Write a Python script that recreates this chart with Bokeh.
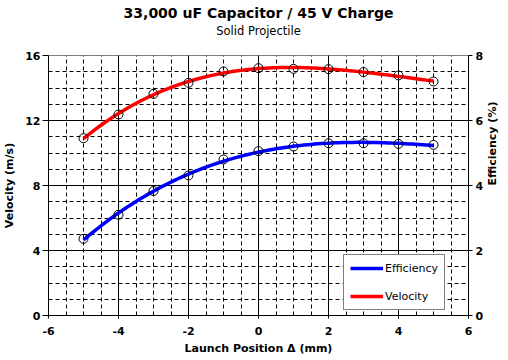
import math
import numpy as np
from bokeh.plotting import figure
from bokeh.models import (Range1d, LinearAxis, FixedTicker, Legend, LegendItem, Title)
from bokeh.embed import file_html
from bokeh.resources import INLINE

# ---- data ----
launch_pos = [-5, -4, -3, -2, -1, 0, 1, 2, 3, 4, 5]
velocity = [10.91, 12.37, 13.64, 14.32, 15.02, 15.22, 15.18, 15.16, 14.98, 14.77, 14.40]
efficiency = [2.36, 3.10, 3.83, 4.31, 4.80, 5.06, 5.20, 5.30, 5.30, 5.28, 5.25]

x_ticks = [-6, -4, -2, 0, 2, 4, 6]
vel_ticks = [0, 4, 8, 12, 16]
eff_ticks = [0, 2, 4, 6, 8]

TITLE = "33,000 uF Capacitor / 45 V Charge"
SUBTITLE = "Solid Projectile"
X_LABEL = "Launch Position \u0394 (mm)"
Y_LABEL = "Velocity (m/s)"
Y2_LABEL = "Efficiency (%)"

FONT = "DejaVu Sans"

# trend lines (polynomial fit of the measured points)
xs_fit = np.linspace(min(launch_pos), max(launch_pos), 101)
vel_fit = np.polyval(np.polyfit(launch_pos, velocity, 3), xs_fit)
eff_fit = np.polyval(np.polyfit(launch_pos, efficiency, 3), xs_fit)

p = figure(width=508, height=360, x_range=Range1d(-6, 6), y_range=Range1d(0, 16),
           output_backend="svg", toolbar_location=None, title=None,
           min_border_left=46, min_border_right=39, min_border_top=55, min_border_bottom=45,
           x_axis_label=X_LABEL, y_axis_label=Y_LABEL)
p.extra_y_ranges = {"eff": Range1d(0, 8)}
p.background_fill_color = "white"
p.border_fill_color = "white"
p.outline_line_color = "#808080"

# axes
xa = p.xaxis[0]
ya = p.yaxis[0]
xa.ticker = FixedTicker(ticks=x_ticks, minor_ticks=list(np.arange(-6, 6.01, 0.5)))
xa.major_label_overrides = {t: str(t) for t in x_ticks}
ya.ticker = FixedTicker(ticks=vel_ticks, minor_ticks=list(range(0, 17)))
ra = LinearAxis(y_range_name="eff", axis_label=Y2_LABEL, ticker=FixedTicker(ticks=eff_ticks))
p.add_layout(ra, "right")

for ax in (xa, ya, ra):
    ax.axis_line_color = "black"
    ax.major_tick_line_color = "black"
    ax.major_tick_in = 0
    ax.minor_tick_in = 0
    ax.minor_tick_out = 0
    ax.major_label_text_font = FONT
    ax.major_label_text_font_size = "11px"
    ax.major_label_text_font_style = "bold"
    ax.major_label_text_color = "black"
    ax.axis_label_text_font = FONT
    ax.axis_label_text_font_size = "11px"
    ax.axis_label_text_font_style = "bold"
    ax.axis_label_text_color = "black"

xa.major_tick_out = 3
xa.major_label_standoff = 8
xa.axis_label_standoff = 4
ya.major_tick_out = 6
ya.major_label_standoff = 2
ya.axis_label_standoff = 6
ra.major_tick_out = 4
ra.major_label_standoff = 3
ra.axis_label_standoff = 6
ra.axis_label_orientation = math.pi / 2

# subtitle carried by a bare axis above the frame (no line, no ticks)
sub_axis = LinearAxis(ticker=FixedTicker(ticks=[]), axis_label=SUBTITLE,
                      axis_line_color=None, major_tick_line_color=None,
                      minor_tick_line_color=None, major_tick_out=0, major_tick_in=0,
                      minor_tick_out=0, minor_tick_in=0, major_label_standoff=0,
                      axis_label_standoff=18, axis_label_text_font=FONT,
                      axis_label_text_font_size="11.5px", axis_label_text_font_style="normal",
                      axis_label_text_color="black")
p.add_layout(sub_axis, "above")
p.add_layout(Title(text=TITLE, align="center", vertical_align="bottom",
                   text_font=FONT, text_font_size="14px", text_font_style="bold",
                   text_color="black", standoff=0), "above")

# grids
for g in (p.xgrid[0], p.ygrid[0]):
    g.grid_line_color = "black"
    g.grid_line_width = 1
    g.minor_grid_line_color = "black"
    g.minor_grid_line_dash = "4 3"
    g.minor_grid_line_width = 1

# curves
eff_line = p.line(xs_fit, eff_fit, y_range_name="eff", line_color="#0000ff", line_width=3.5)
vel_line = p.line(xs_fit, vel_fit, line_color="#ff0000", line_width=3.5)

# markers
p.scatter(launch_pos, velocity, marker="circle", size=9, fill_alpha=0,
          line_color="black", line_width=1)
p.scatter(launch_pos, efficiency, y_range_name="eff", marker="circle", size=9,
          fill_alpha=0, line_color="black", line_width=1)

legend = Legend(items=[LegendItem(label="Efficiency", renderers=[eff_line]),
                       LegendItem(label="Velocity", renderers=[vel_line])],
                location=(295, 5), margin=0, padding=6, spacing=14,
                glyph_width=33, glyph_height=14, label_height=14, label_standoff=2,
                label_text_font=FONT, label_text_font_size="11px",
                label_text_color="black",
                border_line_color="black", border_line_width=1,
                background_fill_color="white", background_fill_alpha=1)
p.add_layout(legend)

open("out.html", "w").write(file_html(p, INLINE))
